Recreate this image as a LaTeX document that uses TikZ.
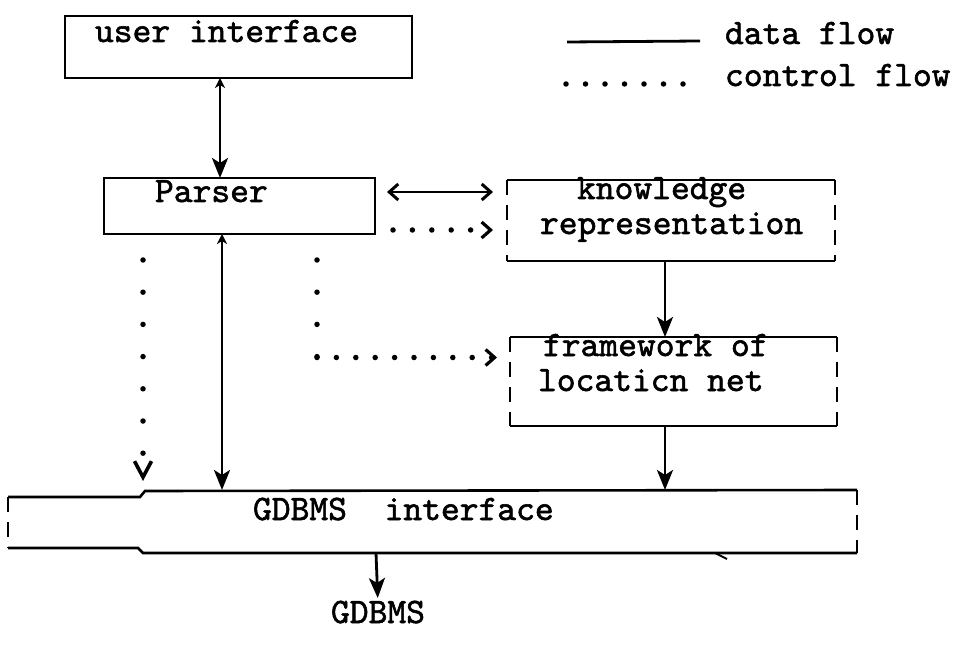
\documentclass[tikz,border=0pt]{standalone}
\usepackage{fontspec}
\newfontfamily\typefont{lmmono10-regular.otf}[FakeBold=1.6]
\usetikzlibrary{arrows.meta}
\begin{document}
\begin{tikzpicture}[x=1pt,y=-1pt,
  every node/.style={inner sep=0pt,outer sep=0pt},
  txt/.style={font=\typefont\fontsize{35.8}{40}\selectfont, anchor=base west,
    text height=18pt, text depth=5pt},
  boxed/.style={draw, line width=2.6pt, rectangle},
  plainbox/.style={rectangle},
  boxline/.style={line width=2.6pt},
  sideline/.style={line width=2.6pt, dash pattern=on 15pt off 10pt},
  flowline/.style={line width=2.8pt},
  ctrldots/.style={line width=5.5pt, line cap=round, dash pattern=on 0pt off 32.2pt},
  ctrlrow/.style={line width=5.5pt, line cap=round, dash pattern=on 0pt off 19.4pt},
  % arrow heads typed over the lines
  updown/.style={{Stealth[length=10pt,width=10pt,inset=3pt]}-{Stealth[length=20pt,width=16pt,inset=5pt]}},
  down/.style={-{Stealth[length=20pt,width=16pt,inset=5pt]}},
  both/.style={{Straight Barb[length=9pt,width=16pt,line width=3pt]}-{Straight Barb[length=9pt,width=16pt,line width=3pt]}},
  ctrlright/.style={-{Straight Barb[length=9pt,width=16pt,line width=3.2pt]}},
  ctrldown/.style={-{Straight Barb[length=16pt,width=17pt,line width=3.6pt]}},
]
\fill[white] (0,0) rectangle (963,652);
\useasboundingbox (0,0) rectangle (963,652);

% boxes
\node[boxed, minimum width=347pt, minimum height=62pt] (ui) at (238.5,47) {};
\node[boxed, minimum width=271pt, minimum height=56pt] (pp) at (239.5,206) {};
\node[plainbox, minimum width=328pt, minimum height=81pt] (kr) at (671,220.5) {};
\node[plainbox, minimum width=327pt, minimum height=89pt] (fw) at (673.5,381.5) {};
\node[plainbox, minimum width=849pt, minimum height=63pt] (gi) at (432.5,521.5) {};

% typed borders: solid rules top and bottom, broken bars at the sides
\foreach \b in {kr,fw}{
  \draw[boxline] (\b.north west) -- (\b.north east);
  \draw[boxline] (\b.south west) -- (\b.south east);
  \draw[sideline] (\b.north west) -- (\b.south west);
  \draw[sideline] (\b.north east) -- (\b.south east);
}
\draw[boxline] ([yshift=-7pt]gi.north west) -- ++(132,0) -- ++(5,-6) -- (gi.north east);
\draw[boxline] ([yshift=5pt]gi.south west) -- ++(130,0) -- ++(5,5) -- (gi.south east);
\draw[sideline] ([yshift=-7pt]gi.north west) -- ([yshift=5pt]gi.south west);
\draw[sideline] (gi.north east) -- (gi.south east);
\draw[line width=2pt] ([xshift=-142pt]gi.south east) -- ++(12,6);

% texts
\node[txt] (ui-t) at (95,42) {user interface};
\node[txt] (pp-t) at (155,202) {Parser};
\node[txt] (kr-t1) at (577,199) {knowledge};
\node[txt] (kr-t2) at (540,234) {representation};
\node[txt] (fw-t1) at (543,356) {framework of};
\node[txt] (fw-t2) at (538,391) {locaticn net};
\node[txt] (gi-t) at (253,520) {GDBMS~~interface};
\node[txt, anchor=base] (out) at (378,623) {GDBMS};
\node[txt] (lg-d) at (725,44) {data flow};
\node[txt] (lg-c) at (725,86) {control flow};

% helper columns and rows
\coordinate (ca) at (220,0);
\coordinate (cb) at (222,0);
\coordinate (cc) at (665,0);
\coordinate (cd) at (376,0);
\coordinate (cl) at (143,0);
\coordinate (ra) at (0,192);
\coordinate (rb) at (0,230);
\coordinate (corner) at (317,357.5);

% data flow
\draw[flowline, updown] (ui.south -| ca) -- (pp.north -| ca);
\draw[flowline, updown] (pp.south -| cb) -- (gi.north -| cb);
\draw[flowline, both, shorten <=12pt, shorten >=14pt] (pp.east |- ra) -- (kr.west |- ra);
\draw[flowline, down] (kr.south -| cc) -- (fw.north -| cc);
\draw[flowline, down] (fw.south -| cc) -- (gi.north -| cc);
\draw[flowline, down, shorten >=7pt] (gi.south -| cd) -- (out.north);

% control flow
\draw[ctrlrow, ctrlright, shorten <=18pt, shorten >=14pt] (pp.east |- rb) -- (kr.west |- rb);
\draw[ctrldots, shorten <=26pt] (pp.south -| corner) -- (corner);
\draw[ctrlrow, ctrlright, shorten >=13pt] (corner) -- (fw.west |- corner);
\draw[ctrldots, ctrldown, shorten <=26pt, shorten >=9pt] (pp.south -| cl) -- (gi.north -| cl);

% legend
\coordinate (l1) at (567,42);
\coordinate (l2) at (700,41);
\draw[flowline] (l1) -- (l2);
\coordinate (l3) at (566,84);
\coordinate (l4) at (684,84);
\draw[ctrlrow, dash pattern=on 0pt off 19.5pt] (l3) -- (l4);
\end{tikzpicture}
\end{document}
